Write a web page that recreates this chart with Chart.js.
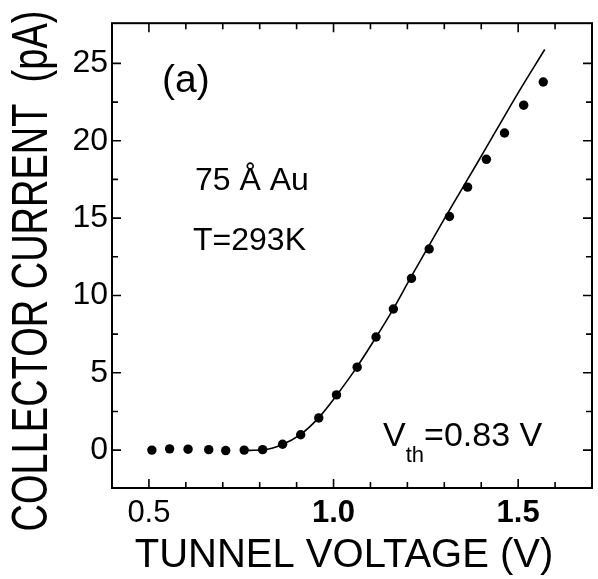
<!DOCTYPE html>
<html>
<head>
<meta charset="utf-8">
<script src="https://cdn.jsdelivr.net/npm/chart.js@4.4.1/dist/chart.umd.min.js"></script>
<style>
  html, body { margin: 0; padding: 0; background: #fff; }
  #wrap { width: 598px; height: 579px; }
</style>
</head>
<body>
<div id="wrap"><canvas id="chart"></canvas></div>
<script>
// measured points (tunnel voltage V, collector current pA)
const voltage = [0.508, 0.556, 0.606, 0.662, 0.708, 0.758, 0.808, 0.862, 0.911, 0.960, 1.008,
                 1.064, 1.115, 1.162, 1.211, 1.259, 1.314, 1.363, 1.414, 1.463, 1.515, 1.568];
const current = [0.00, 0.08, 0.06, 0.03, -0.03, 0.00, 0.03, 0.38, 0.99, 2.08, 3.57,
                 5.36, 7.31, 9.12, 11.1, 13.0, 15.1, 17.0, 18.8, 20.5, 22.3, 23.8];

// fitted curve
const fitVoltage = [0.76, 0.81, 0.86, 0.91, 0.96, 1.01, 1.06, 1.11, 1.16, 1.21, 1.30, 1.40, 1.50, 1.572];
const fitCurrent = [-0.02, 0.02, 0.35, 1.0, 2.1, 3.6, 5.25, 7.1, 9.05, 11.2, 14.95, 19.0, 23.1, 25.9];

// axis ticks
const xTicks = [0.5, 0.6, 0.7, 0.8, 0.9, 1.0, 1.1, 1.2, 1.3, 1.4, 1.5, 1.6];
const xLabels = { '0.5': '0.5', '1': '1.0', '1.5': '1.5' };
const yTicks = [0, 2.5, 5, 7.5, 10, 12.5, 15, 17.5, 20, 22.5, 25];
const yLabels = [0, 5, 10, 15, 20, 25];

const FONT = '"Liberation Sans", Arial, Helvetica, sans-serif';
Chart.defaults.color = '#000';

function isXMajor(v) { return xLabels[String(+v.toFixed(2))] !== undefined; }
function isYMajor(v) { return yLabels.includes(v); }

const framePlugin = {
  id: 'frame',
  afterDraw(chart) {
    const ctx = chart.ctx;
    const a = chart.chartArea;
    const xs = chart.scales.x, ys = chart.scales.y;
    ctx.save();
    ctx.strokeStyle = '#000';
    ctx.lineWidth = 2;
    ctx.strokeRect(a.left, a.top, a.right - a.left, a.bottom - a.top);

    // inward ticks on all four sides
    ctx.lineWidth = 1.6;
    ctx.beginPath();
    xs.ticks.forEach(t => {
      const px = xs.getPixelForValue(t.value);
      const len = isXMajor(t.value) ? 9 : 6;
      ctx.moveTo(px, a.bottom); ctx.lineTo(px, a.bottom - len);
      ctx.moveTo(px, a.top); ctx.lineTo(px, a.top + len);
    });
    ys.ticks.forEach(t => {
      const py = ys.getPixelForValue(t.value);
      const len = isYMajor(t.value) ? 9 : 6;
      ctx.moveTo(a.left, py); ctx.lineTo(a.left + len, py);
      ctx.moveTo(a.right, py); ctx.lineTo(a.right - len, py);
    });
    ctx.stroke();

    // annotations
    ctx.fillStyle = '#000';
    ctx.textBaseline = 'alphabetic';
    ctx.textAlign = 'left';
    ctx.font = '39px ' + FONT;
    ctx.fillText('(a)', 162, 92);
    ctx.font = '32px ' + FONT;
    ctx.fillText('75 Å Au', 195, 190);
    ctx.fillText('T=293K', 193, 250);

    let x = 383;
    ctx.font = '34px ' + FONT;
    ctx.fillText('V', x, 446);
    x += ctx.measureText('V').width;
    ctx.font = '22px ' + FONT;
    ctx.fillText('th', x, 462);
    x += ctx.measureText('th').width;
    ctx.font = '34px ' + FONT;
    ctx.fillText('=0.83 V', x, 446);

    // axis titles
    ctx.font = '40px ' + FONT;
    ctx.textAlign = 'center';
    ctx.fillText('TUNNEL VOLTAGE (V)', 344, 567);

    ctx.save();
    ctx.translate(47, 271);
    ctx.rotate(-Math.PI / 2);
    ctx.scale(1, 1.3);
    ctx.font = '38px ' + FONT;
    ctx.fillText('COLLECTOR CURRENT  (pA)', 0, 0);
    ctx.restore();

    ctx.restore();
  }
};

new Chart(document.getElementById('chart'), {
  type: 'scatter',
  data: {
    datasets: [
      {
        label: 'fit',
        data: fitVoltage.map((v, i) => ({ x: v, y: fitCurrent[i] })),
        showLine: true,
        borderColor: '#000',
        borderWidth: 1.6,
        pointRadius: 0,
        cubicInterpolationMode: 'monotone',
        fill: false
      },
      {
        label: 'data',
        data: voltage.map((v, i) => ({ x: v, y: current[i] })),
        backgroundColor: '#000',
        borderColor: '#000',
        pointRadius: 4.7,
        pointBorderWidth: 0
      }
    ]
  },
  options: {
    responsive: true,
    maintainAspectRatio: false,
    animation: false,
    layout: { padding: { top: 19, right: 6, left: 0, bottom: 0 } },
    plugins: { legend: { display: false }, tooltip: { enabled: false } },
    scales: {
      x: {
        type: 'linear',
        min: 0.40,
        max: 1.70,
        grid: { display: false, drawTicks: false },
        border: { display: false },
        afterBuildTicks: s => { s.ticks = xTicks.map(v => ({ value: v })); },
        afterFit: s => { s.height = 91; },
        ticks: {
          padding: 7,
          maxRotation: 0,
          autoSkip: false,
          color: '#000',
          font: c => ({ family: FONT, size: 31, weight: (c.tick && c.tick.value >= 0.95) ? 'bold' : 'normal' }),
          callback: v => xLabels[String(+(+v).toFixed(2))] || ''
        }
      },
      y: {
        type: 'linear',
        min: -2.45,
        max: 27.6,
        grid: { display: false, drawTicks: false },
        border: { display: false },
        afterBuildTicks: s => { s.ticks = yTicks.map(v => ({ value: v })); },
        afterFit: s => { s.width = 112; },
        ticks: {
          padding: 4,
          autoSkip: false,
          color: '#000',
          font: { family: FONT, size: 32 },
          callback: v => yLabels.includes(v) ? String(v) : ''
        }
      }
    }
  },
  plugins: [framePlugin]
});
</script>
</body>
</html>
